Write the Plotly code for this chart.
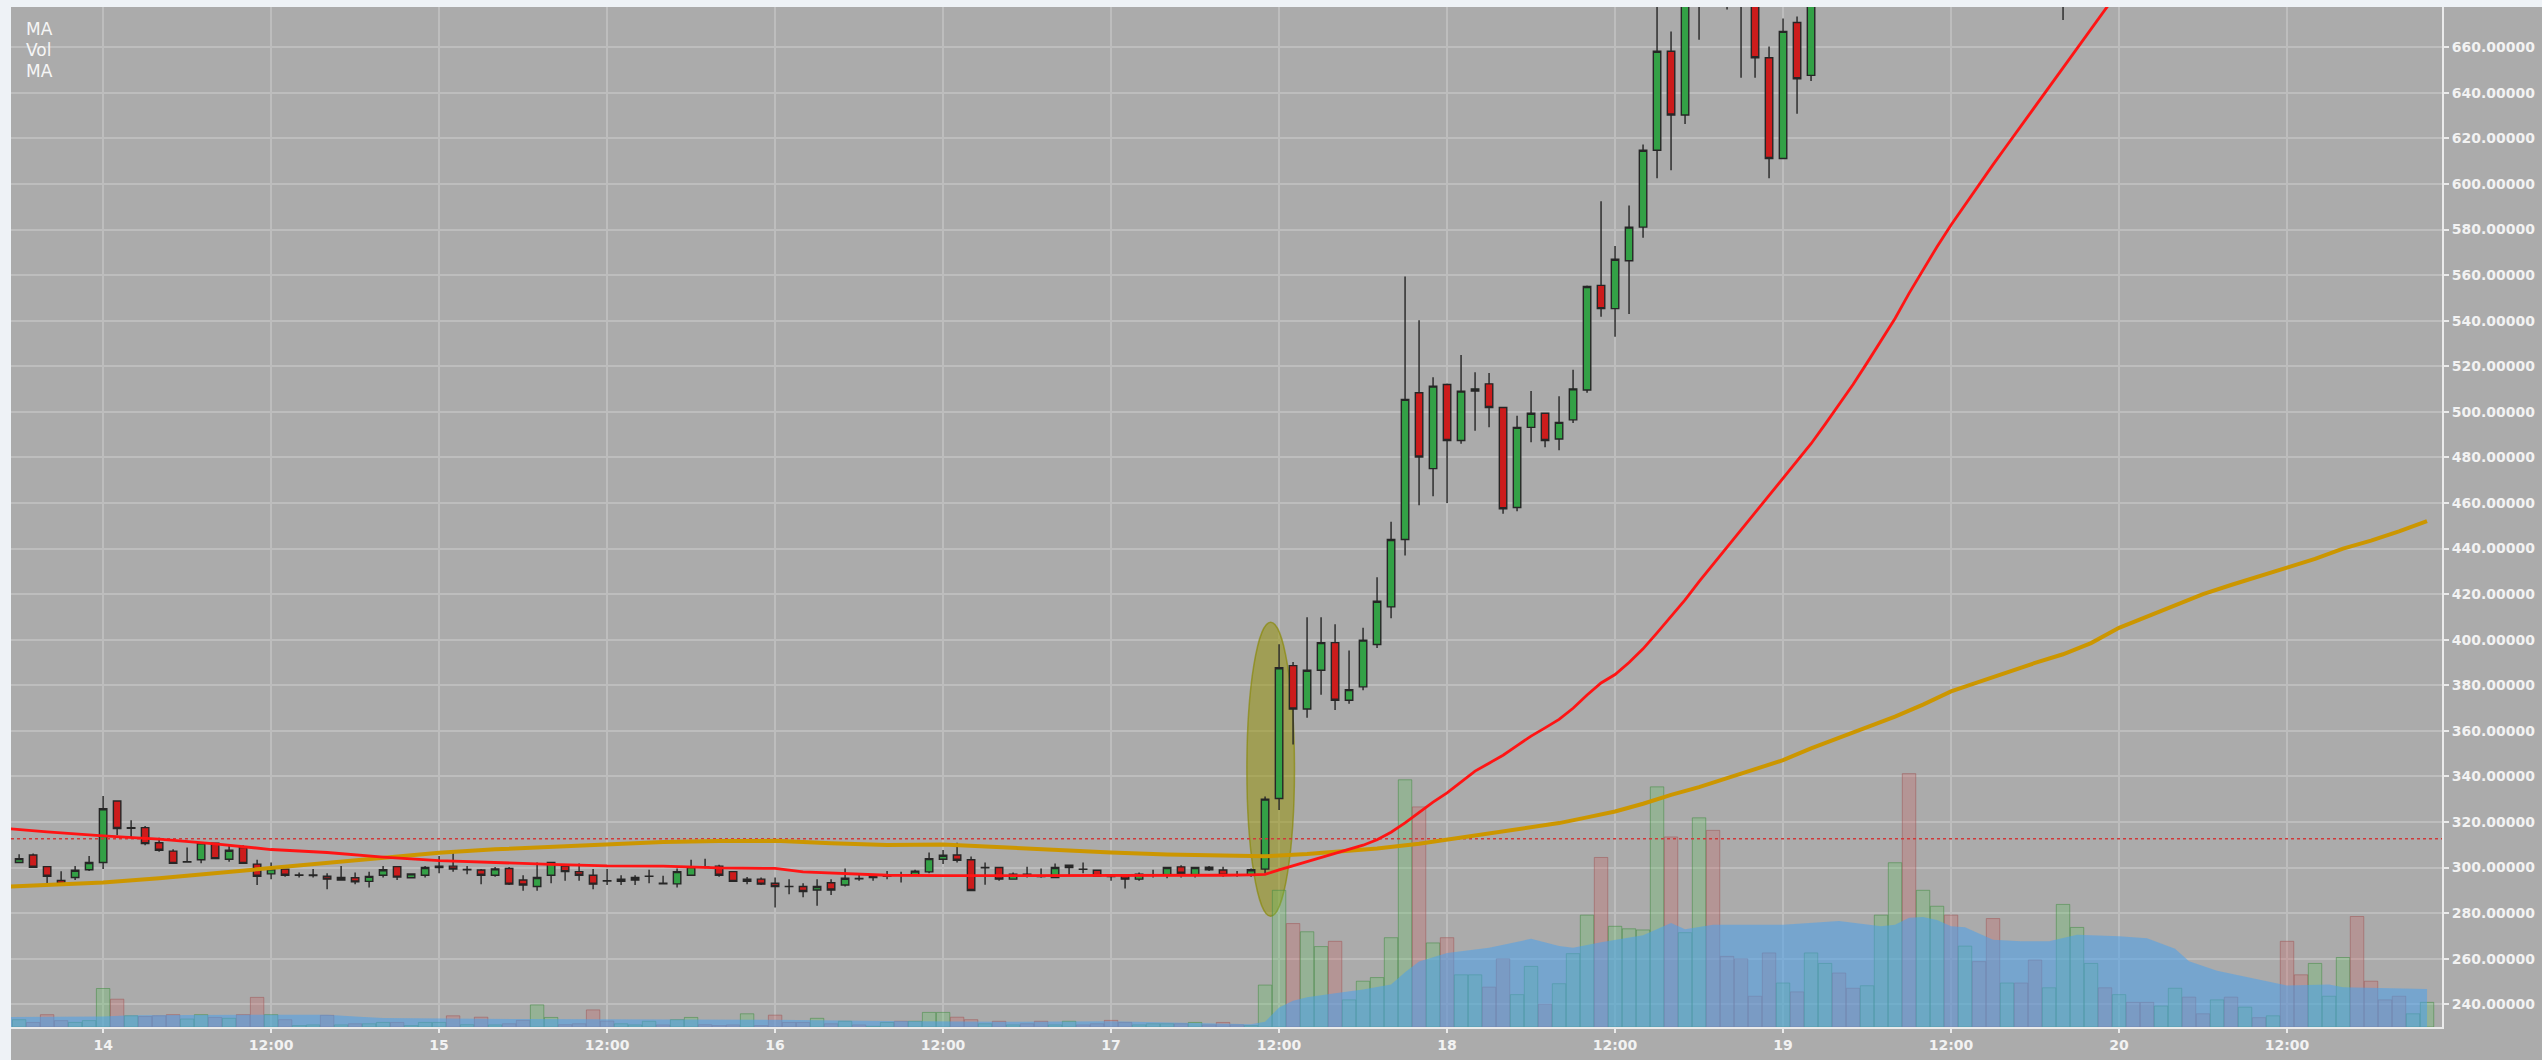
import pandas as pd
import plotly.graph_objects as go

# ---------------- data ----------------
BASE = pd.Timestamp("2018-01-14 00:00")   # the "14" tick
FIRST_HOUR = -6                            # first hourly candle: 13th 18:00

opens = [
    302.2, 305.5, 300.4, 294.3, 295.6, 299.0,                                  # -6..-1
    302.2, 329.2, 317.2, 317.5, 310.9, 307.2, 302.4, 303.4, 310.7, 303.6,      # 0..9
    308.8, 301.5, 297.2, 299.3, 296.6, 296.5, 296.2, 294.5, 295.5, 293.9,      # 10..19
    296.6, 300.4, 295.5, 296.6, 300.0, 300.6, 299.0, 298.9, 296.6, 299.6,      # 20..29
    294.5, 291.7, 296.6, 300.6, 298.2, 296.6, 294.2, 293.9, 294.5, 296.1,      # 30..39
    293.1, 292.8, 296.6, 300.2, 300.6, 298.2, 293.9, 294.9, 293.1, 291.7,      # 40..49
    291.7, 290.1, 293.3, 292.3, 295.2, 295.6, 296.2, 296.7, 296.9, 298.1,      # 50..59
    303.6, 305.5, 303.4, 299.9, 300.0, 294.9, 297.1, 296.1, 295.6, 300.0,      # 60..69
    299.3, 298.8, 296.1, 296.6, 294.9, 296.6, 296.6, 300.3, 296.6, 300.1,      # 70..79
    298.9, 296.9, 296.6, 299.3, 330.3, 388.6, 369.6, 386.6, 398.7, 373.4,      # 80..89
    379.3, 397.9, 414.4, 444.0, 508.4, 475.1, 512.0, 487.4, 509.1, 512.3,      # 90..99
    501.9, 458.0, 493.2, 499.4, 488.1, 496.5, 509.6, 555.5, 545.3, 566.3,      # 100..109
    581.1, 614.8, 658.3, 630.3, 700.0, 735.0, 712.0, 695.0, 688.0, 655.4,      # 110..119
    611.2, 670.9, 647.7, 695.0, 712.0, 703.0, 698.0, 735.0, 790.0, 850.0,      # 120..129
    820.0, 875.0, 892.0, 840.0, 855.0, 800.0, 765.0, 778.0, 760.0, 748.0,      # 130..139
    752.0, 780.0, 800.0, 818.0, 805.0, 815.0, 802.0, 790.0, 800.0, 815.0,      # 140..149
    806.0, 798.0, 806.0, 795.0, 801.0, 792.0, 797.0, 770.0, 752.0, 765.0,      # 150..159
    770.0, 785.0, 750.0, 738.0, 730.0, 722.0, 728.0,                           # 160..166
]
highs = [
    305.8, 306.1, 300.6, 298.4, 300.7, 305.1,
    331.4, 329.4, 320.7, 318.2, 313.1, 308.0, 308.8, 311.2, 311.0, 309.5,
    309.8, 303.4, 302.2, 299.6, 297.8, 299.3, 297.5, 300.7, 297.8, 298.1,
    300.7, 300.7, 297.5, 300.7, 305.1, 307.3, 300.7, 299.3, 300.2, 300.2,
    296.6, 302.2, 302.5, 301.5, 301.8, 299.3, 299.3, 296.6, 296.6, 299.0,
    296.4, 299.6, 303.4, 303.9, 301.2, 298.2, 295.8, 295.6, 295.6, 294.9,
    293.1, 294.9, 294.9, 299.6, 297.1, 297.1, 298.5, 298.1, 299.0, 306.6,
    307.7, 310.9, 304.8, 302.2, 300.1, 297.8, 300.3, 299.6, 301.8, 301.0,
    302.2, 298.8, 296.2, 296.6, 297.8, 299.0, 300.0, 301.0, 300.0, 300.7,
    300.3, 298.5, 299.6, 331.2, 398.0, 390.2, 409.9, 409.9, 406.8, 395.2,
    405.2, 427.4, 451.8, 559.4, 540.2, 515.2, 512.4, 525.0, 517.4, 517.1,
    502.2, 498.3, 509.1, 499.7, 506.9, 518.5, 555.5, 592.4, 572.8, 590.6,
    617.4, 684.0, 667.0, 712.0, 748.0, 742.0, 718.0, 702.0, 694.0, 660.4,
    672.7, 673.5, 702.0, 720.0, 716.0, 709.0, 742.0, 805.0, 868.0, 872.0,
    890.0, 905.0, 898.0, 866.0, 860.0, 808.0, 790.0, 784.0, 766.0, 760.0,
    790.0, 812.0, 826.0, 822.0, 820.0, 818.0, 806.0, 806.0, 822.0, 818.0,
    810.0, 812.0, 809.0, 806.0, 804.0, 800.0, 799.0, 774.0, 770.0, 774.0,
    790.0, 788.0, 754.0, 742.0, 734.0, 732.0, 740.0,
]
lows = [
    302.0, 300.0, 292.0, 292.5, 294.5, 298.5,
    299.3, 314.2, 313.1, 309.8, 306.9, 301.5, 302.2, 301.9, 303.6, 302.5,
    301.5, 292.3, 294.9, 296.0, 295.6, 295.6, 290.5, 294.2, 292.7, 291.2,
    295.6, 294.5, 295.2, 295.6, 297.5, 298.1, 297.1, 292.7, 296.0, 292.3,
    289.8, 289.8, 293.1, 294.2, 294.2, 290.5, 292.3, 292.3, 292.3, 293.1,
    292.8, 291.2, 296.4, 299.7, 296.0, 293.9, 292.7, 292.3, 282.5, 288.3,
    286.9, 283.2, 287.9, 291.7, 294.2, 294.2, 294.9, 293.4, 296.4, 297.5,
    301.5, 302.2, 289.8, 292.4, 294.2, 294.9, 295.6, 295.5, 295.3, 296.6,
    297.5, 296.1, 294.2, 290.8, 294.2, 295.6, 295.3, 295.6, 295.6, 298.5,
    296.0, 296.0, 296.0, 297.4, 325.3, 354.0, 365.7, 375.8, 369.1, 371.9,
    377.8, 396.4, 409.4, 437.0, 459.0, 463.0, 460.0, 486.0, 491.7, 493.2,
    455.3, 456.4, 486.7, 484.5, 483.1, 495.1, 508.4, 541.7, 533.0, 542.9,
    576.4, 602.5, 606.1, 626.4, 663.3, 690.0, 676.6, 646.7, 646.7, 602.5,
    611.0, 630.8, 645.2, 688.0, 694.0, 690.0, 695.0, 730.0, 784.0, 800.0,
    815.0, 860.0, 825.0, 830.0, 790.0, 750.0, 758.0, 752.0, 740.0, 738.0,
    672.0, 772.0, 794.0, 798.0, 800.0, 796.0, 784.0, 786.0, 796.0, 800.0,
    792.0, 794.0, 790.0, 791.0, 788.0, 789.0, 762.0, 745.0, 748.0, 760.0,
    766.0, 742.0, 730.0, 724.0, 716.0, 718.0, 724.0,
]
closes = [
    303.9, 300.1, 296.2, 292.7, 298.8, 302.2,
    325.8, 317.1, 317.5, 310.5, 307.6, 301.8, 302.6, 310.9, 303.9, 307.6,
    301.8, 296.2, 299.4, 296.6, 296.7, 296.7, 294.9, 295.6, 293.7, 296.1,
    299.0, 295.8, 297.2, 300.0, 300.6, 299.3, 299.1, 296.6, 299.4, 292.7,
    292.3, 295.6, 302.2, 298.2, 296.6, 292.7, 294.1, 294.9, 295.6, 296.2,
    292.9, 298.2, 300.4, 300.1, 296.6, 293.9, 294.9, 292.7, 291.7, 291.6,
    289.5, 291.7, 290.1, 295.3, 295.1, 296.4, 296.9, 296.6, 298.4, 303.9,
    305.4, 303.2, 289.9, 300.0, 294.9, 297.1, 296.1, 296.0, 300.0, 301.0,
    299.2, 296.1, 296.0, 294.9, 297.1, 296.7, 300.0, 297.5, 300.0, 299.0,
    296.6, 296.8, 299.0, 330.0, 387.7, 369.6, 386.6, 398.7, 373.4, 378.1,
    399.8, 416.9, 444.0, 505.5, 480.2, 511.3, 487.4, 509.1, 510.1, 501.9,
    457.5, 493.2, 499.4, 487.4, 495.4, 510.1, 555.0, 545.3, 567.0, 581.1,
    614.8, 658.3, 630.3, 700.0, 735.0, 712.0, 695.0, 688.0, 655.4, 611.2,
    667.0, 646.2, 695.0, 712.0, 703.0, 698.0, 735.0, 790.0, 850.0, 820.0,
    875.0, 892.0, 840.0, 855.0, 800.0, 765.0, 778.0, 760.0, 748.0, 752.0,
    780.0, 800.0, 818.0, 805.0, 815.0, 802.0, 790.0, 800.0, 815.0, 806.0,
    798.0, 806.0, 795.0, 801.0, 792.0, 797.0, 770.0, 752.0, 765.0, 770.0,
    785.0, 750.0, 738.0, 730.0, 722.0, 728.0, 735.0,
]
volumes = [
    3.2, 2.0, 5.4, 2.8, 2.0, 2.8,
    16.9, 12.2, 4.9, 4.6, 4.9, 5.4, 3.5, 5.4, 4.2, 3.8,
    5.4, 13.0, 5.4, 3.2, 0.6, 0.9, 5.1, 0.9, 1.4, 1.4,
    2.0, 2.0, 0.6, 2.0, 2.0, 4.9, 1.0, 4.3, 0.9, 1.4,
    2.9, 9.7, 4.2, 1.0, 1.4, 7.5, 2.6, 1.4, 0.9, 2.5,
    0.9, 3.2, 4.2, 1.0, 0.6, 0.9, 5.8, 0.6, 5.2, 2.0,
    2.0, 3.8, 1.4, 2.5, 0.9, 0.3, 2.0, 2.5, 2.5, 6.4,
    6.4, 4.3, 3.2, 1.4, 2.5, 0.9, 1.4, 2.5, 0.9, 2.5,
    0.9, 1.4, 2.9, 2.0, 0.9, 1.4, 1.4, 1.4, 2.0, 0.9,
    2.0, 0.9, 0.6, 18.4, 60.0, 45.4, 41.8, 35.3, 37.6, 11.9,
    20.1, 21.7, 39.2, 108.5, 96.6, 36.9, 39.2, 22.9, 22.9, 17.5,
    29.9, 14.2, 26.6, 10.0, 19.0, 32.2, 49.1, 74.4, 44.2, 43.1,
    42.6, 105.4, 83.4, 41.4, 91.8, 86.3, 31.0, 29.9, 13.5, 32.5,
    19.3, 15.4, 32.5, 27.9, 23.7, 17.0, 18.1, 49.1, 72.1, 111.2,
    60.0, 53.0, 49.1, 35.5, 28.7, 47.6, 19.3, 19.3, 29.4, 17.2,
    53.8, 43.7, 27.9, 17.2, 14.2, 10.8, 10.8, 9.2, 17.0, 13.1,
    5.8, 11.9, 13.1, 8.7, 4.1, 4.9, 37.6, 22.9, 27.9, 13.5,
    30.5, 48.5, 20.1, 11.9, 13.5, 5.8, 10.8,
]

# moving averages (hour offsets from BASE, values)
ma_fast_hours = [-7, -4, 0, 4, 8, 12, 16, 20, 24, 28, 32, 36, 40, 44, 48, 50, 52, 54, 56, 60,
                 64, 68, 72, 76, 80, 82, 83, 84, 85, 86, 87, 88, 89, 90, 91, 92, 93, 94, 95, 96,
                 97, 98, 99, 100, 101, 102, 103, 104, 105, 106, 107, 108, 109, 110, 111, 112,
                 113, 114, 115, 116, 117, 118, 119, 120, 121, 122, 123, 124, 125, 126, 127, 128,
                 129, 130, 131, 132, 133, 134, 135, 136, 137, 138, 139, 140, 141, 142, 143, 144,
                 146, 150, 156, 166]
ma_fast_values = [317.2, 315.6, 313.9, 312.5, 310.4, 307.9, 306.6, 304.6, 303.0, 302.1, 301.4,
                  300.7, 300.6, 299.8, 299.6, 298.1, 297.5, 297.0, 296.6, 296.4,
                  296.4, 296.5, 296.5, 296.5, 296.6, 296.8, 297.0, 299.0, 300.8, 302.4, 304.3,
                  306.0, 307.9, 309.8, 312.2, 315.5, 319.6, 324.2, 328.7, 332.8,
                  337.5, 342.3, 345.8, 349.3, 353.5, 357.7, 361.3, 365.0, 369.9, 375.7, 381.0,
                  384.7, 390.0, 396.0, 403.0, 410.0,
                  417.5, 425.5, 433.0, 440.5, 448.0, 455.5, 463.0, 470.5, 478.0, 486.0, 494.5,
                  503.0, 512.0, 521.5, 531.0, 541.0,
                  552.0, 562.5, 572.5, 582.0, 591.0, 599.8, 608.5, 617.0, 625.5, 634.0, 642.5,
                  651.5, 660.0, 668.5, 676.5, 685.0,
                  697.0, 716.0, 745.0, 790.0]

ma_slow_hours = [-7, 0, 4, 8, 12, 16, 20, 24, 28, 32, 36, 40, 44, 48, 52, 56, 60, 64, 68, 72,
                 76, 80, 83, 86, 88, 91, 94, 96, 98, 100, 102, 104, 106, 108, 110, 112, 114, 116,
                 118, 120, 122, 124, 126, 128, 130, 132, 134, 136, 138, 140, 142, 144, 146, 148,
                 150, 152, 154, 156, 158, 160, 162, 164, 166]
ma_slow_values = [291.6, 293.4, 295.3, 297.5, 299.8, 302.1, 304.0, 306.5, 308.0, 309.0, 310.3,
                  311.2, 311.6, 311.7, 310.7, 309.9, 310.1, 308.8, 307.7, 306.6,
                  305.7, 305.2, 304.9, 305.9, 306.8, 308.3, 310.4, 312.2, 313.9, 315.5, 317.6,
                  319.5, 322.0, 324.6, 328.0, 331.9, 335.3, 339.3,
                  343.0, 347.1, 352.3, 357.0, 361.5, 366.2, 371.5, 377.3, 381.5, 385.8, 389.8,
                  393.6, 398.5, 405.2, 410.0, 415.0,
                  420.0, 424.0, 428.0, 431.6, 435.5, 440.0, 443.5, 447.5, 452.0]

vol_ma_hours = [-7, 0, 2, 10, 16, 18, 20, 30, 40, 48, 56, 64, 72, 76, 80, 82, 83, 84, 85, 86,
                88, 90, 92, 93, 94, 96, 99, 102, 104, 105, 107, 110, 112, 113, 115, 120, 124,
                127, 128, 129, 130, 131, 132, 133, 135, 137, 139, 141, 144, 146, 148, 149, 151,
                154, 156, 159, 160, 166]
vol_ma_values = [4.4, 4.6, 5.2, 5.4, 5.4, 4.6, 3.9, 3.5, 3.5, 3.2, 2.6, 2.3, 2.5, 2.0, 1.3, 1.2,
                 2.3, 8.6, 11.5, 13.1, 14.8, 16.5, 18.6, 24.0, 28.8, 32.5, 34.8, 38.7, 35.6,
                 34.8, 37.2, 40.3, 45.7, 42.9, 44.9, 44.9, 46.5, 44.2, 44.9, 48.0, 48.3, 47.0,
                 44.2, 43.8, 38.3, 37.6, 37.6, 40.5, 39.8, 39.0, 34.3, 28.9, 24.7, 20.6, 18.2,
                 18.6, 17.5, 16.7]

reference_level = 312.6                   # dotted red line
highlight_hours = (81.7, 85.1)            # highlighted breakout candles
highlight_prices = (278.6, 407.7)

tick_hours = [0, 12, 24, 36, 48, 60, 72, 84, 96, 108, 120, 132, 144, 156]
tick_text = ["14", "12:00", "15", "12:00", "16", "12:00", "17", "12:00",
             "18", "12:00", "19", "12:00", "20", "12:00"]
legend_labels = ["MA", "Vol", "MA"]

price_range = [230.0, 677.7]
x_range_hours = [-6.58, 167.07]

# ---------------- build ----------------
def at(h):
    return BASE + pd.Timedelta(hours=h)

times = [at(FIRST_HOUR + i) for i in range(len(opens))]
span = price_range[1] - price_range[0]    # volume axis shares the pixel scale

BG = "#ABABAB"
GRID = "#BDBDBD"
AXIS = "#EAEAEA"
TXT = "#F2F2F2"

vol_fill = ["rgba(101,194,101,0.30)" if c >= o else "rgba(201,101,101,0.30)"
            for o, c in zip(opens, closes)]
vol_line = ["rgba(70,140,70,0.55)" if c >= o else "rgba(160,90,90,0.55)"
            for o, c in zip(opens, closes)]

fig = go.Figure()

fig.add_trace(go.Bar(
    x=times, y=volumes, yaxis="y",
    marker=dict(color=vol_fill, line=dict(color=vol_line, width=1)),
    showlegend=False, hoverinfo="skip",
))
fig.add_trace(go.Scatter(
    x=[at(h) for h in vol_ma_hours], y=vol_ma_values, yaxis="y",
    mode="lines", fill="tozeroy", line=dict(color="rgba(75,160,235,0.0)", width=0),
    fillcolor="rgba(75,160,235,0.55)", showlegend=False, hoverinfo="skip",
))
fig.add_trace(go.Scatter(
    x=[at(x_range_hours[0]), at(x_range_hours[1])], y=[reference_level, reference_level],
    yaxis="y2", mode="lines", line=dict(color="#D03A3A", width=1.5, dash="dot"),
    showlegend=False, hoverinfo="skip",
))
fig.add_trace(go.Scatter(
    x=[at(h) for h in ma_slow_hours], y=ma_slow_values, yaxis="y2",
    mode="lines", line=dict(color="#CC9600", width=4), showlegend=False, hoverinfo="skip",
))
fig.add_trace(go.Scatter(
    x=[at(h) for h in ma_fast_hours], y=ma_fast_values, yaxis="y2",
    mode="lines", line=dict(color="#FF1414", width=2.8), showlegend=False, hoverinfo="skip",
))
fig.add_trace(go.Candlestick(
    x=times, open=opens, high=highs, low=lows, close=closes, yaxis="y2",
    increasing=dict(fillcolor="#33A146", line=dict(color="#262626", width=1.4)),
    decreasing=dict(fillcolor="#CC1C1C", line=dict(color="#262626", width=1.4)),
    whiskerwidth=0, showlegend=False, hoverinfo="skip",
))

W, H = 2542, 1060
ML, MR, MT, MB = 11, 95, 7, 23
pw, ph = W - ML - MR, H - MT - MB

shapes = [
    dict(type="rect", xref="paper", yref="paper", x0=0, x1=1.2, y0=-0.2, y1=1,
         fillcolor=BG, line=dict(width=0), layer="below"),
    # highlight ellipse, placed on the main (volume) axis which shares the price pixel scale
    dict(type="circle", xref="x", yref="y",
         x0=at(highlight_hours[0]), x1=at(highlight_hours[1]),
         y0=highlight_prices[0] - price_range[0], y1=highlight_prices[1] - price_range[0],
         fillcolor="rgba(150,145,0,0.50)", line=dict(color="rgba(135,135,0,0.65)", width=1.5),
         layer="between"),
]

annotations = []
for i, lab in enumerate(legend_labels):
    ypix = 29 + i * 21.5
    annotations.append(dict(
        text=lab, xref="paper", yref="paper",
        x=(24 - ML) / pw, y=1 - (ypix - MT) / ph,
        xanchor="left", yanchor="middle", showarrow=False,
        font=dict(family="DejaVu Sans", size=17, color="#F6F6F6"),
    ))

fig.update_layout(
    width=W, height=H,
    margin=dict(l=ML, r=MR, t=MT, b=MB, pad=0),
    paper_bgcolor="#EEF2F6", plot_bgcolor=BG,
    showlegend=False, barmode="overlay", bargap=0.04, boxgap=0.24,
    hovermode=False,
    shapes=shapes, annotations=annotations,
    xaxis=dict(
        type="date", range=[at(x_range_hours[0]), at(x_range_hours[1])],
        tickvals=[at(h) for h in tick_hours], ticktext=tick_text,
        showgrid=True, gridcolor=GRID, gridwidth=1.5,
        showline=True, linecolor=AXIS, linewidth=2,
        ticks="outside", ticklen=4, tickcolor=AXIS, tickwidth=1.5,
        tickfont=dict(family="DejaVu Sans", size=14, color=TXT, weight="bold"),
        rangeslider=dict(visible=False), zeroline=False, fixedrange=True,
    ),
    yaxis=dict(range=[0, span], visible=False,
               showgrid=False, zeroline=False, fixedrange=True),
    yaxis2=dict(
        overlaying="y", side="right", range=price_range,
        tick0=0, dtick=20, tickformat=".5f",
        showgrid=True, gridcolor=GRID, gridwidth=1.5,
        showline=True, linecolor=AXIS, linewidth=2,
        ticks="outside", ticklen=5, tickcolor=AXIS, tickwidth=1.5,
        tickfont=dict(family="DejaVu Sans", size=14, color=TXT, weight="bold"),
        zeroline=False, fixedrange=True,
    ),
)

fig.write_html("out.html", config={"displayModeBar": False},
               post_script="document.body.style.margin='0';document.body.style.overflow='hidden';")
